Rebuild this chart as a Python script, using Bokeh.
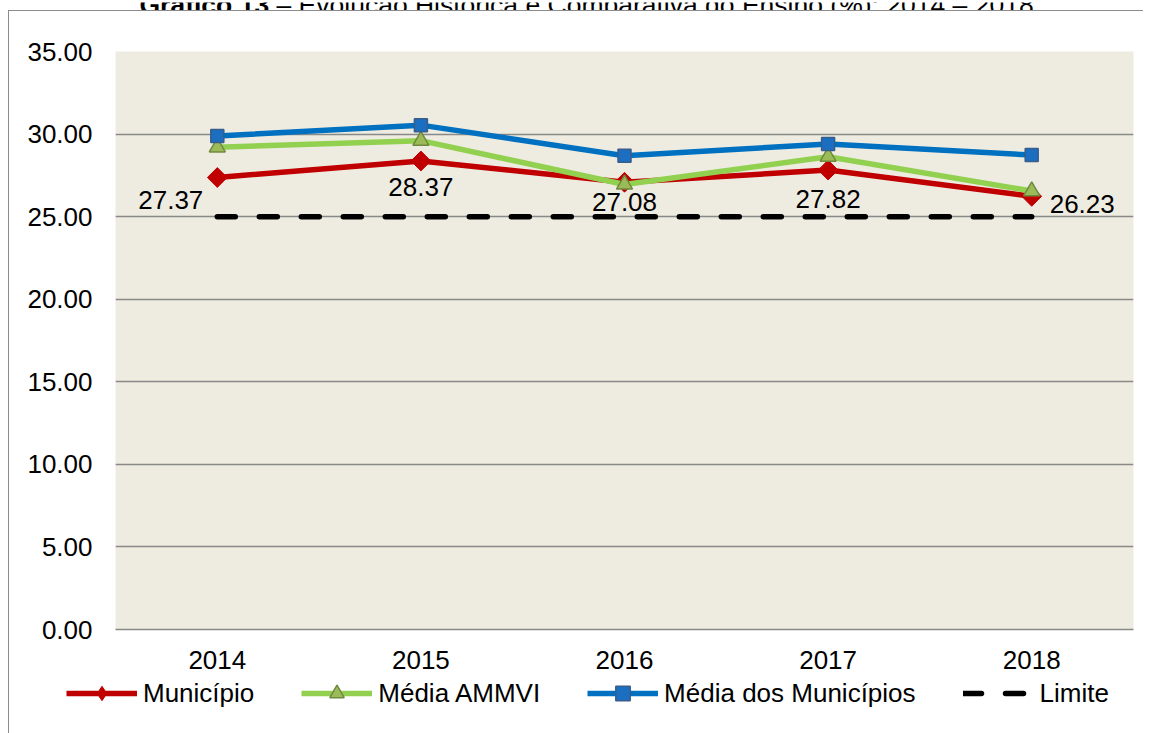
import numpy as np
from bokeh.plotting import figure
from bokeh.layouts import column
from bokeh.models import (ColumnDataSource, FactorRange, Range1d, FixedTicker,
                          NumeralTickFormatter, Legend, LegendItem)
from bokeh.core.properties import value
from bokeh.embed import file_html
from bokeh.resources import INLINE

# ---------------- data ----------------
years = ["2014", "2015", "2016", "2017", "2018"]
municipio = [27.37, 28.37, 27.08, 27.82, 26.23]
media_ammvi = [29.20, 29.60, 26.95, 28.63, 26.55]
media_municipios = [29.88, 30.54, 28.69, 29.40, 28.73]
limite = [25.0, 25.0, 25.0, 25.0, 25.0]
y_ticks = [0, 5, 10, 15, 20, 25, 30, 35]
series_names = ["Município", "Média AMMVI", "Média dos Municípios", "Limite"]
title_bold = "Gráfico 13"
title_rest = " – Evolução Histórica e Comparativa do Ensino (%): 2014 – 2018"

# ---------------- styling ----------------
FONT = "Liberation Sans"
FS = "26px"
GRID = "#898989"
BORDER = "1.5px solid #8C8C8C"
C_MUN, C_AMM, C_MED = "#C00000", "#92D050", "#0070C0"
label_dx = [-14, 0, 0, 0, 18]
label_dy = [22, 26, 20, 29, 8]
label_align = ["right", "center", "center", "center", "left"]


def no_align(fig):
    try:
        fig.frame_align = False
        return True
    except Exception:
        return False


p = figure(width=1134, height=663,
           x_range=FactorRange(factors=years, range_padding=0),
           y_range=Range1d(0, 35),
           output_backend="svg", toolbar_location=None,
           min_border_left=106, min_border_right=10,
           min_border_top=40, min_border_bottom=45,
           background_fill_color="#EEECE1", border_fill_color="white",
           outline_line_color=None, margin=0)

p.xgrid.grid_line_color = None
p.ygrid.ticker = FixedTicker(ticks=y_ticks)
p.ygrid.grid_line_color = GRID
p.ygrid.grid_line_width = 1.5

p.yaxis.ticker = FixedTicker(ticks=y_ticks)
p.yaxis.formatter = NumeralTickFormatter(format="0.00")
p.yaxis.axis_line_color = None
p.yaxis.major_tick_line_color = None
p.yaxis.minor_tick_line_color = None
p.yaxis.major_label_standoff = 17
p.yaxis.major_label_text_font_size = FS
p.yaxis.major_label_text_font = FONT
p.yaxis.major_label_text_color = "black"

p.xaxis.axis_line_color = GRID
p.xaxis.axis_line_width = 1.5
p.xaxis.major_tick_line_color = None
p.xaxis.minor_tick_line_color = None
p.xaxis.major_label_standoff = 15
p.xaxis.major_label_text_font_size = FS
p.xaxis.major_label_text_font = FONT
p.xaxis.major_label_text_color = "black"

# ---------------- series ----------------
mun_line = dict(line_color=C_MUN, line_width=5.5)
mun_mark = dict(marker="square", angle=np.pi / 4, size=14, fill_color=C_MUN, line_color=C_MUN)
mun_mark_leg = dict(marker="diamond", size=16, fill_color=C_MUN, line_color=C_MUN)
amm_line = dict(line_color=C_AMM, line_width=5.5)
amm_mark = dict(marker="triangle", size=16, fill_color="#9BBB59", line_color="#71893F", line_width=1.5)
med_line = dict(line_color=C_MED, line_width=5.5)
med_mark = dict(marker="square", size=13, fill_color="#1C6FC0", line_color="#385D8A", line_width=1.5)
lim_line = dict(line_color="black", line_width=5.5, line_dash="18 24", line_cap="round")

p.line(years, municipio, **mun_line)
p.scatter(years, municipio, **mun_mark)
p.line(years, media_ammvi, **amm_line)
p.scatter(years, media_ammvi, **amm_mark)
p.line(years, media_municipios, **med_line)
p.scatter(years, media_municipios, **med_mark)
p.line(years, limite, **lim_line)

src = ColumnDataSource(dict(x=years, y=municipio,
                            label=["%.2f" % v for v in municipio],
                            dx=label_dx, dy=label_dy, align=label_align))
p.text(x="x", y="y", text="label", source=src, x_offset="dx", y_offset="dy",
       text_align="align", text_baseline="middle",
       text_font=value(FONT), text_font_size=FS, text_color="black")

# ---------------- legend strip (own small figure below the chart) ----------------
leg = figure(width=1134, height=38, output_backend="svg", toolbar_location=None,
             x_range=Range1d(0, 1), y_range=Range1d(0, 1),
             x_axis_type=None, y_axis_type=None, min_border=0,
             outline_line_color=None, background_fill_color="white",
             border_fill_color="white", margin=0)
leg_free = no_align(leg)
nan = float("nan")
e = dict(x=[nan], y=[nan])   # swatch-only renderers: nothing is drawn in the strip itself
items = [
    LegendItem(label=series_names[0], renderers=[leg.line(**e, **mun_line), leg.scatter(**e, **mun_mark_leg)]),
    LegendItem(label=series_names[1], renderers=[leg.line(**e, **amm_line), leg.scatter(**e, **amm_mark)]),
    LegendItem(label=series_names[2], renderers=[leg.line(**e, **med_line), leg.scatter(**e, **med_mark)]),
    LegendItem(label=series_names[3], renderers=[leg.line(**e, **lim_line)]),
]
legend = Legend(items=items, orientation="horizontal", location="left",
                margin=57 if leg_free else -50, padding=0, spacing=47,
                glyph_width=71, glyph_height=36, label_standoff=6,
                label_text_font=FONT, label_text_font_size=FS, label_text_color="black",
                border_line_color=None, background_fill_alpha=0)
leg.add_layout(legend, "center")

# ---------------- title strip (cut by the top edge, as in the reference) ----------------
tf = figure(width=1151, height=10, output_backend="svg", toolbar_location=None,
            x_range=Range1d(0, 1151), y_range=Range1d(0, 10),
            x_axis_type=None, y_axis_type=None, min_border=0,
            outline_line_color=None, background_fill_color="white",
            border_fill_color="white", margin=0)
no_align(tf)
tf.text(x=[139], y=[8], text=[title_bold], text_font=value(FONT), text_font_size="26.5px",
        text_font_style="bold", text_baseline="alphabetic", text_color="black")
tf.text(x=[276], y=[8], text=[title_rest.lstrip()], text_font=value(FONT), text_font_size="26.5px",
        text_baseline="alphabetic", text_color="black")

chart = column(p, leg, margin=0,
               styles={"border-left": BORDER, "border-top": BORDER,
                       "margin-left": "8px", "padding-bottom": "30px"})
page = column(tf, chart, margin=0)

open("out.html", "w").write(file_html(page, INLINE))
